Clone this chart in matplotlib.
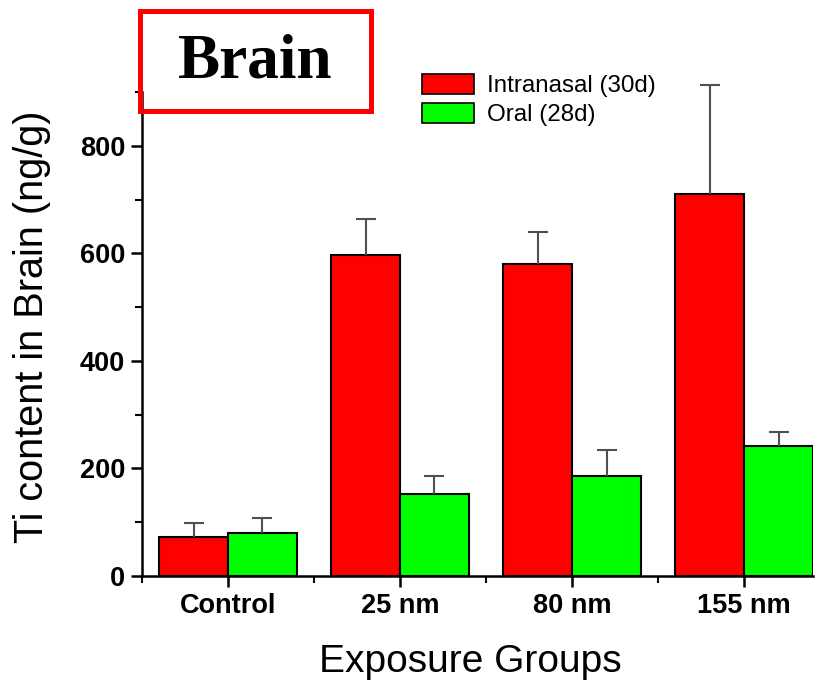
import matplotlib.pyplot as plt
import numpy as np
from matplotlib.patches import Rectangle, Patch
from matplotlib.ticker import MultipleLocator

groups = ["Control", "25 nm", "80 nm", "155 nm"]
intranasal = [72, 597, 580, 711]
intranasal_err = [27, 67, 60, 202]
oral = [80, 153, 186, 242]
oral_err = [28, 33, 49, 26]

plt.rcParams['font.family'] = ['Liberation Sans', 'DejaVu Sans']

fig = plt.figure(figsize=(8.21, 6.82), dpi=100)
ax = fig.add_axes([142 / 821, 1 - 576 / 682, 671 / 821, 484 / 682])

x = np.arange(len(groups))
w = 0.4
err_kw = dict(ecolor='#505050', elinewidth=1.5, capsize=7, capthick=1.5)
for offset, vals, errs, color in [(-w / 2, intranasal, intranasal_err, '#ff0000'),
                                  (w / 2, oral, oral_err, '#00ff00')]:
    bars = ax.bar(x + offset, vals, w, color=color, edgecolor='black', linewidth=1.5,
                  yerr=[np.zeros(len(errs)), errs], error_kw=err_kw, zorder=2)
    data_line, caplines, barcols = bars.errorbar.lines
    caplines[0].set_visible(False)  # only upper cap
    for art in list(caplines) + list(barcols):
        art.set_clip_on(False)

ax.set_xlim(-0.5, 3.4)
ax.set_ylim(0, 900)
ax.set_xticks(x)
ax.set_xticklabels(groups, fontsize=19.5, fontweight='bold')
ax.xaxis.set_minor_locator(MultipleLocator(1, offset=0.5))
ax.yaxis.set_major_locator(MultipleLocator(200))
ax.yaxis.set_minor_locator(MultipleLocator(100))
for lab in ax.get_yticklabels():
    lab.set_fontsize(19.5)
    lab.set_fontweight('bold')
ax.tick_params(which='major', direction='out', length=8, width=1.8, pad=4)
ax.tick_params(which='minor', direction='out', length=5, width=1.5)
ax.spines['top'].set_visible(False)
ax.spines['right'].set_visible(False)
ax.spines['left'].set_linewidth(1.8)
ax.spines['bottom'].set_linewidth(1.8)

fig.text(32 / 821, 1 - 327 / 682, "Ti content in Brain (ng/g)", fontsize=28.5,
         rotation=90, ha='center', va='center')
fig.text(470 / 821, 1 - 662 / 682, "Exposure Groups", fontsize=28,
         ha='center', va='center')

fig.patches.append(Rectangle((139.5 / 821, 1 - 110.5 / 682), 231 / 821, 100 / 682,
                             transform=fig.transFigure, fill=False,
                             edgecolor='#ff0000', linewidth=3.6, zorder=5))
fig.text(255 / 821, 1 - 62 / 682, "Brain", fontsize=45.5, fontweight='bold',
         family=['Liberation Serif', 'DejaVu Serif'], ha='center', va='center')

handles = [Patch(facecolor='#ff0000', edgecolor='black', linewidth=1.2),
           Patch(facecolor='#00ff00', edgecolor='black', linewidth=1.2)]
fig.legend(handles, ["Intranasal (30d)", "Oral (28d)"], loc='upper left',
           bbox_to_anchor=(405 / 821, 1 - 57 / 682), frameon=False, fontsize=17.4,
           handlelength=2.15, handleheight=0.9, handletextpad=0.55, labelspacing=0.22,
           borderpad=0.2)

fig.savefig("out.png", dpi=100)
